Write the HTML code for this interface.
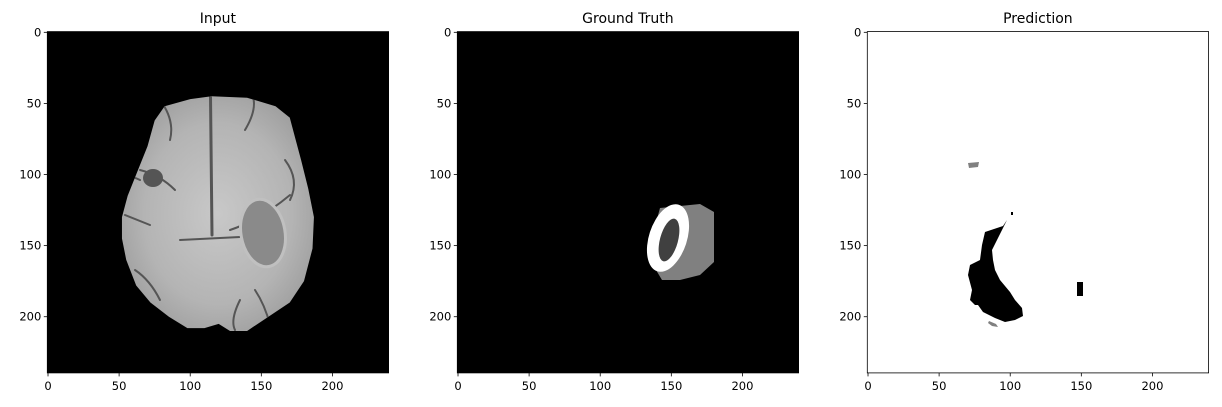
<!DOCTYPE html>
<html><head><meta charset="utf-8"><style>
body{margin:0;background:#fff;}
svg{display:block;font-family:"DejaVu Sans","Liberation Sans",sans-serif;}
</style></head><body>
<svg id="fig" width="1222" height="407" viewBox="0 0 1222 407">
<defs>
<radialGradient id="brainGrad" cx="50%" cy="50%" r="55%">
<stop offset="0" stop-color="#c8c8c8"/><stop offset="0.7" stop-color="#b4b4b4"/><stop offset="1" stop-color="#a0a0a0"/>
</radialGradient>
<clipPath id="brainClip"><polygon id="brainPoly" points=""/></clipPath>
</defs>
<g id="panels"></g>
</svg>
<script>
const titles=["Input","Ground Truth","Prediction"];
const xTicks=[0,50,100,150,200];
const yTicks=[0,50,100,150,200];
const extent=240;
const offsets=[0,410,820];
const brainOutline=[[82,52],[100,47],[115,45],[140,46],[160,52],[170,60],[174,75],[178,90],[183,110],[187,130],[186,152],[180,175],[170,190],[155,200],[140,210],[128,210],[120,205],[110,208],[98,208],[85,200],[72,190],[62,178],[55,160],[52,145],[52,130],[56,115],[62,100],[70,80],[75,62]];
const NS="http://www.w3.org/2000/svg";
const L0=47.3, T0=31.6, S=341.3/extent;
function sx(v,o){return o+L0+(v+0.5)*S;}
function sy(v){return T0+(v+0.5)*S;}
function mk(tag,attrs,parent){const e=document.createElementNS(NS,tag);for(const k in attrs)e.setAttribute(k,attrs[k]);parent.appendChild(e);return e;}
const root=document.getElementById('panels');
offsets.forEach((o,i)=>{
  const g=mk('g',{},root);
  
  
  const bg=mk('rect',{x:o+L0,y:T0,width:341.3,height:341.3,fill:i<2?'#000':'#fff'},g);
  
  
  const t=mk('text',{x:o+L0+170.6,y:23,'text-anchor':'middle','font-size':'14',fill:'#000'},g);
  t.textContent=titles[i];
  
  
  if(i===0){
    const pts=brainOutline.map(p=>sx(p[0],o)+','+sy(p[1])).join(' ');
    document.getElementById('brainPoly').setAttribute('points',pts);
    const b=mk('polygon',{points:pts,fill:'url(#brainGrad)'},g);
    
    
    const cg=mk('g',{'clip-path':'url(#brainClip)',fill:'none',stroke:'#555','stroke-width':'2.5','stroke-linecap':'round'},g);
    [["M210,50 L212,235",3],["M140,170 Q160,175 175,190",2],["M125,215 L150,225",2],["M230,230 Q260,220 290,195",2],["M180,240 L240,237",2],["M160,100 Q175,120 170,140",2],["M250,90 Q260,105 245,130",2],["M285,160 Q300,180 290,200",2],["M135,270 Q150,280 160,300",2],["M255,290 Q265,305 270,325",2],["M100,180 Q120,170 140,180",2],["M240,300 Q230,320 235,330",2]].forEach(d=>mk('path',{d:d[0],'stroke-width':d[1]},cg));
    mk('ellipse',{cx:263,cy:233,rx:22,ry:34,fill:'#8a8a8a',stroke:'#c0c0c0','stroke-width':3,transform:'rotate(-10 263 233)'},cg);
    mk('ellipse',{cx:153,cy:178,rx:10,ry:9,fill:'#555',stroke:'none'},cg);
  }
  if(i===1){
    const lg=mk('g',{},g);
    
    
    mk('polygon',{points:'660,208 700,204 714,212 714,262 700,275 680,280 662,280 656,270 650,245',fill:'#808080'},lg);
    mk('ellipse',{cx:668,cy:238,rx:19,ry:35,fill:'#fff',transform:'rotate(18 668 238)'},lg);
    mk('ellipse',{cx:669,cy:240,rx:9,ry:22,fill:'#404040',transform:'rotate(15 669 240)'},lg);
  }
  if(i===2){
    const pg=mk('g',{},g);
    
    
    mk('polygon',{points:'1007,220 1003,226 985,232 982,245 980,260 970,265 968,275 972,290 970,300 975,305 978,305 983,312 995,318 1005,322 1015,320 1023,316 1022,308 1015,300 1010,292 1000,280 995,270 993,260 992,250 998,238',fill:'#000'},pg);
    mk('rect',{x:1077,y:282,width:6,height:14,fill:'#000'},pg);
    mk('rect',{x:1011,y:212,width:2,height:3,fill:'#000'},pg);
    mk('polygon',{points:'968,163 979,162 978,167 969,168',fill:'#808080'},pg);
    mk('polygon',{points:'989,321 996,324 998,327 992,326 988,323',fill:'#808080'},pg);
  }
  const fr=mk('rect',{x:o+L0,y:T0,width:341.3,height:341.3,fill:'none',stroke:'#000','stroke-width':0.8},g);
  
  
  xTicks.forEach(v=>{
    const x=sx(v,o);
    mk('line',{x1:x,x2:x,y1:T0+341.3,y2:T0+341.3+3.5,stroke:'#000','stroke-width':0.8},g);
    const tx=mk('text',{x:x,y:T0+341.3+17,'text-anchor':'middle','font-size':'11.5',fill:'#000'},g);
    tx.textContent=v;
    
    
  });
  yTicks.forEach(v=>{
    const y=sy(v);
    mk('line',{x1:o+L0-3.5,x2:o+L0,y1:y,y2:y,stroke:'#000','stroke-width':0.8},g);
    const ty=mk('text',{x:o+L0-6,y:y+4,'text-anchor':'end','font-size':'11.5',fill:'#000'},g);
    ty.textContent=v;
    
    
  });
});
</script>
</body></html>
